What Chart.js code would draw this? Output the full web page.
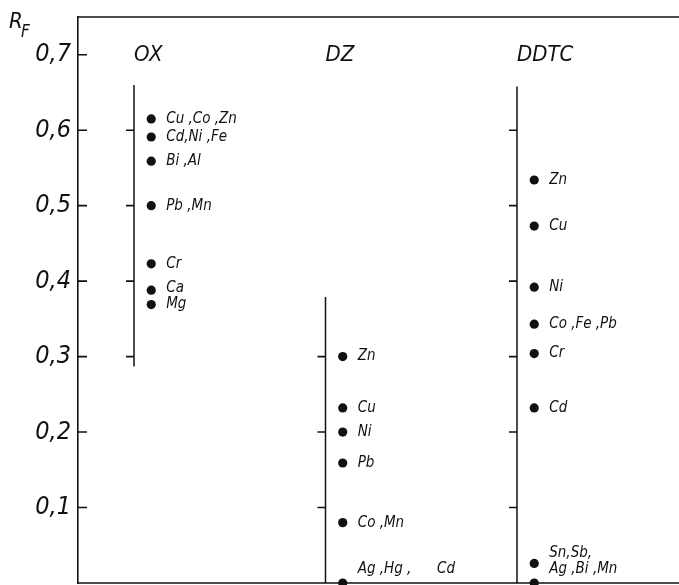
<!DOCTYPE html>
<html>
<head>
<meta charset="utf-8">
<script src="https://cdn.jsdelivr.net/npm/chart.js@4/dist/chart.umd.min.js"></script>
<style>
  html, body { margin: 0; padding: 0; background: #fff; }
  canvas { display: block; }
</style>
</head>
<body>
<canvas id="rf" width="679" height="585"></canvas>
<script>
// columns = complexing reagents, values = R_F of each spot
const columns = ["OX", "DZ", "DDTC"];

const oxRf   = [0.615, 0.591, 0.559, 0.5, 0.423, 0.388, 0.369];
const oxIons = ["Cu ,Co ,Zn", "Cd,Ni ,Fe", "Bi ,Al", "Pb ,Mn", "Cr", "Ca", "Mg"];

const dzRf   = [0.3, 0.232, 0.2, 0.159, 0.08, 0];
const dzIons = ["Zn", "Cu", "Ni", "Pb", "Co ,Mn", "Ag ,Hg ,      Cd"];

const ddtcRf   = [0.534, 0.473, 0.392, 0.343, 0.304, 0.232, 0.026, 0];
const ddtcIons = ["Zn", "Cu", "Ni", "Co ,Fe ,Pb", "Cr", "Cd", "Sn,Sb,", "Ag ,Bi ,Mn"];

// extent of each column's own scale line and its tick marks
const stemRange = [[0.287, 0.66], [0, 0.379], [0, 0.658]];
const stemTicks = [[0.3, 0.4, 0.5, 0.6], [0.1, 0.2, 0.3], [0.1, 0.2, 0.3, 0.4, 0.5, 0.6]];

const yTickLabels = ["", "0,1", "0,2", "0,3", "0,4", "0,5", "0,6", "0,7"];

const INK = "#111";
const FONT = "'Liberation Sans Narrow', 'DejaVu Sans Condensed', 'Liberation Sans', sans-serif";
const DOT_SHIFT = 0.09;

const spots = [oxRf, dzRf, ddtcRf];
const ions = [oxIons, dzIons, ddtcIons];

const datasets = [];
stemRange.forEach((r, i) => {
  datasets.push({
    data: [{ x: i, y: r[0] }, { x: i, y: r[1] }],
    showLine: true,
    borderColor: INK,
    borderWidth: 1.5,
    pointRadius: 0,
    clip: false
  });
});
spots.forEach((vals, i) => {
  datasets.push({
    data: vals.map(v => ({ x: i + DOT_SHIFT, y: v })),
    ions: ions[i],
    pointRadius: 4.6,
    pointBackgroundColor: INK,
    pointBorderWidth: 0,
    clip: false
  });
});

// frame, inner ticks, titles and spot labels
const overlay = {
  id: "overlay",
  afterDraw(chart) {
    const { ctx, chartArea: a, scales: { x, y } } = chart;
    ctx.save();
    ctx.strokeStyle = INK;
    ctx.lineWidth = 1.6;
    ctx.beginPath();
    ctx.moveTo(a.left, a.top); ctx.lineTo(a.right, a.top);
    ctx.moveTo(a.left, a.bottom); ctx.lineTo(a.right, a.bottom);
    y.ticks.forEach(t => {
      if (t.value === 0) return;
      const py = y.getPixelForValue(t.value);
      ctx.moveTo(a.left, py); ctx.lineTo(a.left + 9, py);
    });
    stemTicks.forEach((list, i) => {
      const px = x.getPixelForValue(i);
      list.forEach(v => {
        const py = y.getPixelForValue(v);
        ctx.moveTo(px - 8, py); ctx.lineTo(px, py);
      });
    });
    ctx.stroke();

    ctx.fillStyle = INK;
    ctx.textBaseline = "middle";
    ctx.textAlign = "left";

    // column titles
    ctx.font = "italic 22px " + FONT;
    columns.forEach((c, i) => ctx.fillText(c, x.getPixelForValue(i), 55));

    // R_F
    ctx.font = "italic 22px " + FONT;
    ctx.fillText("R", 9, 22);
    ctx.font = "italic 17px " + FONT;
    ctx.fillText("F", 21, 33);

    // spot labels, pushed apart from the bottom up
    ctx.font = "italic 15px " + FONT;
    chart.data.datasets.forEach((ds, di) => {
      if (!ds.ions) return;
      const pts = chart.getDatasetMeta(di).data;
      let limit = a.bottom - 14;
      for (let k = pts.length - 1; k >= 0; k--) {
        const ly = Math.min(pts[k].y, limit);
        ctx.fillText(ds.ions[k], pts[k].x + 15, ly);
        limit = ly - 16;
      }
    });
    ctx.restore();
  }
};

new Chart(document.getElementById("rf"), {
  type: "scatter",
  data: { datasets },
  options: {
    responsive: false,
    animation: false,
    layout: { autoPadding: false, padding: { top: 17, bottom: 2, left: 0, right: 0 } },
    plugins: { legend: { display: false }, tooltip: { enabled: false } },
    scales: {
      x: { type: "linear", min: -0.2924, max: 2.846, display: false },
      y: {
        min: 0,
        max: 0.75,
        afterFit: s => { s.width = 78; s.paddingTop = 0; s.paddingBottom = 0; },
        grid: { drawOnChartArea: false, drawTicks: false },
        border: { display: true, color: INK, width: 1.6 },
        ticks: {
          stepSize: 0.1,
          includeBounds: false,
          padding: 7,
          color: INK,
          font: { family: FONT, size: 25, style: "italic" },
          callback: (v, i) => yTickLabels[i] ?? ""
        }
      }
    }
  },
  plugins: [overlay]
});
</script>
</body>
</html>
